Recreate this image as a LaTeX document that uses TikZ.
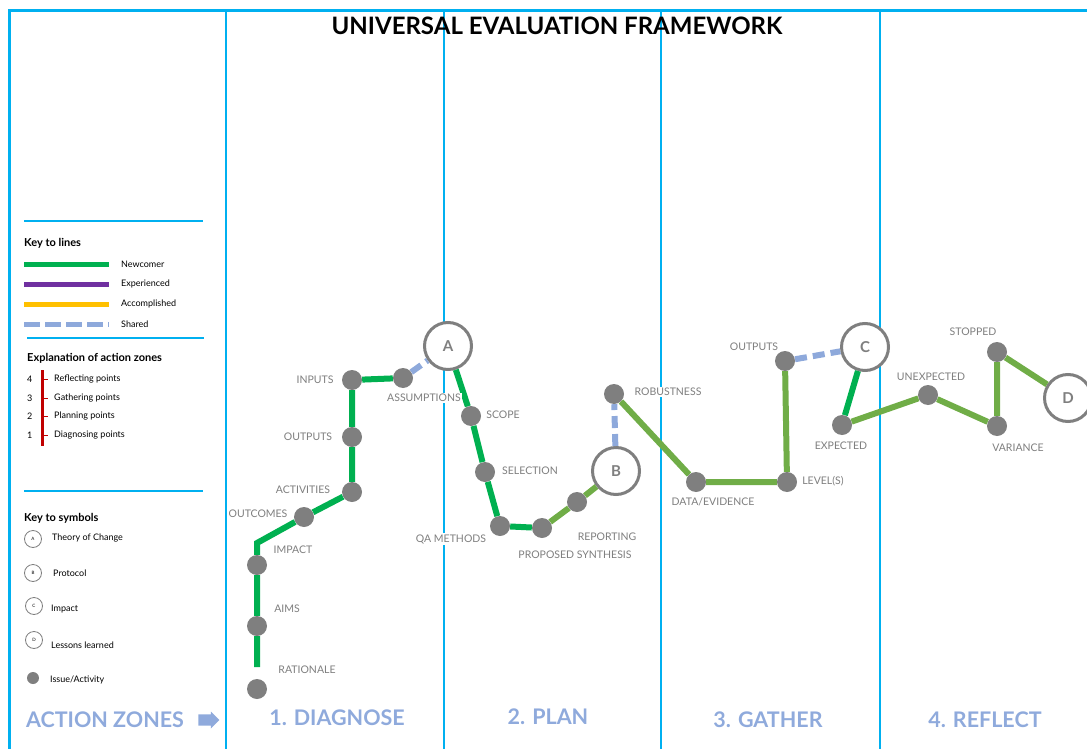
\documentclass[tikz,border=0pt]{standalone}
\usepackage{fontspec}
\setmainfont{Lato}
\usetikzlibrary{positioning,shapes.arrows}
\definecolor{zoneblue}{HTML}{00B0F0}
\definecolor{newgreen}{HTML}{00B050}
\definecolor{litegreen}{HTML}{70AD47}
\definecolor{sharedblue}{HTML}{8EA9DB}
\definecolor{expurple}{HTML}{7030A0}
\definecolor{accyellow}{HTML}{FFC000}
\definecolor{dotgrey}{HTML}{7F7F7F}
\definecolor{keyred}{HTML}{C00000}
\definecolor{zonetext}{HTML}{8FAADC}

\begin{document}
\begin{tikzpicture}[x=1pt,y=-1pt,
	dot/.style={circle, fill=dotgrey, minimum size=20pt, inner sep=0pt},
	milestone/.style={circle, draw=dotgrey, line width=3pt, fill=white, minimum size=47pt, inner sep=0pt, text=dotgrey, font=\bfseries\fontsize{15}{15}\selectfont},
	tag/.style={fill=white, inner sep=1.5pt, text=dotgrey, font=\fontsize{10.5}{11}\selectfont},
	newcomer/.style={newgreen, line width=6pt},
	settled/.style={litegreen, line width=6pt},
	experienced/.style={expurple, line width=5pt},
	accomplished/.style={accyellow, line width=5pt},
	shared/.style={sharedblue, line width=6pt, dash pattern=on 12pt off 6pt},
	zoneline/.style={zoneblue, line width=2pt},
	keyhead/.style={anchor=west, inner sep=0pt, font=\bfseries\fontsize{11}{12}\selectfont},
	keytext/.style={anchor=west, inner sep=0pt, font=\fontsize{9}{10}\selectfont},
	keysym/.style={circle, draw=dotgrey, line width=0.8pt, minimum size=17pt, inner sep=0pt, font=\fontsize{4.5}{5}\selectfont},
	zonename/.style={text=zonetext, inner sep=0pt, font=\bfseries\fontsize{21.5}{22}\selectfont}]

	\useasboundingbox (0,0) rectangle (1087,749);

	% frame and zones
	\draw[zoneblue, line width=3pt] (9,749) -- (9,11) -- (1087,11);
	\foreach \x in {226,444,661,880}
		\draw[zoneline] (\x,11) -- (\x,749);
	\node[font=\bfseries\fontsize{24}{24}\selectfont] (title) at (557,26) {UNIVERSAL EVALUATION FRAMEWORK};

	% key to lines
	\draw[zoneline] (24,221) -- (203,221);
	\node[keyhead] (keylines) at (24,243) {Key to lines};
	\draw[newcomer, line width=5pt] (24,264) -- (109,264);
	\draw[experienced] (24,284) -- (109,284);
	\draw[accomplished] (24,304) -- (109,304);
	\draw[shared, line width=5pt, dash pattern=on 16pt off 5pt] (24,324) -- (109,324);
	\node[keytext] (knew) at (121,264) {Newcomer};
	\node[keytext] (kexp) at (121,284) {Experienced};
	\node[keytext] (kacc) at (121,304) {Accomplished};
	\node[keytext] (kshr) at (121,324) {Shared};

	% action zones key
	\draw[zoneline] (27,338) -- (204,338);
	\node[keyhead] (keyzones) at (27,358) {Explanation of action zones};
	\draw[keyred, line width=3pt] (42,370) -- (42,446);
	\foreach \y/\n/\txt in {379/4/Reflecting points, 398/3/Gathering points, 416/2/Planning points, 435/1/Diagnosing points} {
		\draw[keyred, line width=1pt] (42,\y) -- (48,\y);
		\node[keytext] (num\n) at (27,\y) {\n};
		\node[keytext] (zone\n) at (54,\y) {\txt};
	}

	% key to symbols
	\draw[zoneline] (24,491) -- (203,491);
	\node[keyhead] (keysyms) at (24,518) {Key to symbols};
	\node[keysym] (ksa) at (33,539) {A};
	\node[keysym] (ksb) at (33,573) {B};
	\node[keysym] (ksc) at (34,606) {C};
	\node[keysym] (ksd) at (34,640) {D};
	\node[circle, fill=dotgrey, minimum size=12pt, inner sep=0pt] (ksdot) at (33,678) {};
	\node[keytext] at (52,538) {Theory of Change};
	\node[keytext] at (53,573) {Protocol};
	\node[keytext] at (51,609) {Impact};
	\node[keytext] at (51,645) {Lessons learned};
	\node[keytext] at (50,680) {Issue/Activity};

	% zone names
	\node[zonename] (actzones) at (105,720) {ACTION ZONES};
	\node[single arrow, fill=zonetext, minimum height=21pt, minimum width=17pt, inner sep=3.5pt, single arrow head extend=2pt] (zarrow) at (206,720) {};
	\node[zonename] (diagnose) at (337,718) {1. DIAGNOSE};
	\node[zonename] (plan) at (548,717) {2. PLAN};
	\node[zonename] (gather) at (768,720) {3. GATHER};
	\node[zonename] (reflect) at (985,720) {4. REFLECT};

	% issues and milestones
	\node[dot] (rationale) at (257,689) {};
	\node[dot] (aims) at (257,626) {};
	\node[dot] (impact) at (257,565) {};
	\node[dot] (outcomes) at (304,517) {};
	\node[dot] (activities) at (352,492) {};
	\node[dot] (doutputs) at (352,437) {};
	\node[dot] (inputs) at (352,380) {};
	\node[dot] (assumptions) at (403,378) {};
	\node[milestone] (toc) at (448,346) {A};
	\node[dot] (scope) at (471,416) {};
	\node[dot] (selection) at (485,472) {};
	\node[dot] (qamethods) at (500,526) {};
	\node[dot] (synthesis) at (542,528) {};
	\node[dot] (reporting) at (577,502) {};
	\node[milestone] (protocol) at (616,471) {B};
	\node[dot] (robustness) at (614,394) {};
	\node[dot] (dataevidence) at (696,482) {};
	\node[dot] (levels) at (787,482) {};
	\node[dot] (goutputs) at (785,361) {};
	\node[milestone] (impactc) at (865,347) {C};
	\node[dot] (expected) at (842,425) {};
	\node[dot] (unexpected) at (928,395) {};
	\node[dot] (variance) at (997,426) {};
	\node[dot] (stopped) at (997,352) {};
	\node[milestone] (lessons) at (1068,398) {D};

	\coordinate (diagstart) at (257,667);
	\coordinate (diagcorner) at (257,543);

	% route
	\draw[newcomer] (diagstart) -- (aims) -- (impact) -- (diagcorner) -- (outcomes) -- (activities) -- (doutputs) -- (inputs) -- (assumptions);
	\draw[shared] (assumptions) -- (toc);
	\draw[newcomer] (toc) -- (scope) -- (selection) -- (qamethods) -- (synthesis);
	\draw[settled] (synthesis) -- (reporting) -- (protocol);
	\draw[shared] (protocol) -- (robustness);
	\draw[settled] (robustness) -- (dataevidence) -- (levels) -- (goutputs);
	\draw[shared] (goutputs) -- (impactc);
	\draw[newcomer] (impactc) -- (expected);
	\draw[settled] (expected) -- (unexpected) -- (variance) -- (stopped) -- (lessons);

	% labels
	\node[tag] (rationale-tag) at (307,670) {RATIONALE};
	\node[tag] (aims-tag) at (287,609) {AIMS};
	\node[tag] (impact-tag) at (293,550) {IMPACT};
	\node[tag] (outcomes-tag) at (258,514) {OUTCOMES};
	\node[tag] (activities-tag) at (303,490) {ACTIVITIES};
	\node[tag] (doutputs-tag) at (308,437) {OUTPUTS};
	\node[tag] (inputs-tag) at (315,380) {INPUTS};
	\node[tag] (assumptions-tag) at (424,398) {ASSUMPTIONS};
	\node[tag] (scope-tag) at (503,415) {SCOPE};
	\node[tag] (selection-tag) at (530,471) {SELECTION};
	\node[tag] (qamethods-tag) at (451,539) {QA METHODS};
	\node[tag] (reporting-tag) at (607,537) {REPORTING};
	\node[tag] (synthesis-tag) at (575,555) {PROPOSED SYNTHESIS};
	\node[tag] (robustness-tag) at (668,392) {ROBUSTNESS};
	\node[tag] (dataevidence-tag) at (713,502) {DATA/EVIDENCE};
	\node[tag] (levels-tag) at (823,481) {LEVEL(S)};
	\node[tag] (goutputs-tag) at (754,347) {OUTPUTS};
	\node[tag] (expected-tag) at (841,446) {EXPECTED};
	\node[tag] (unexpected-tag) at (931,377) {UNEXPECTED};
	\node[tag] (variance-tag) at (1018,448) {VARIANCE};
	\node[tag] (stopped-tag) at (973,332) {STOPPED};
\end{tikzpicture}
\end{document}
